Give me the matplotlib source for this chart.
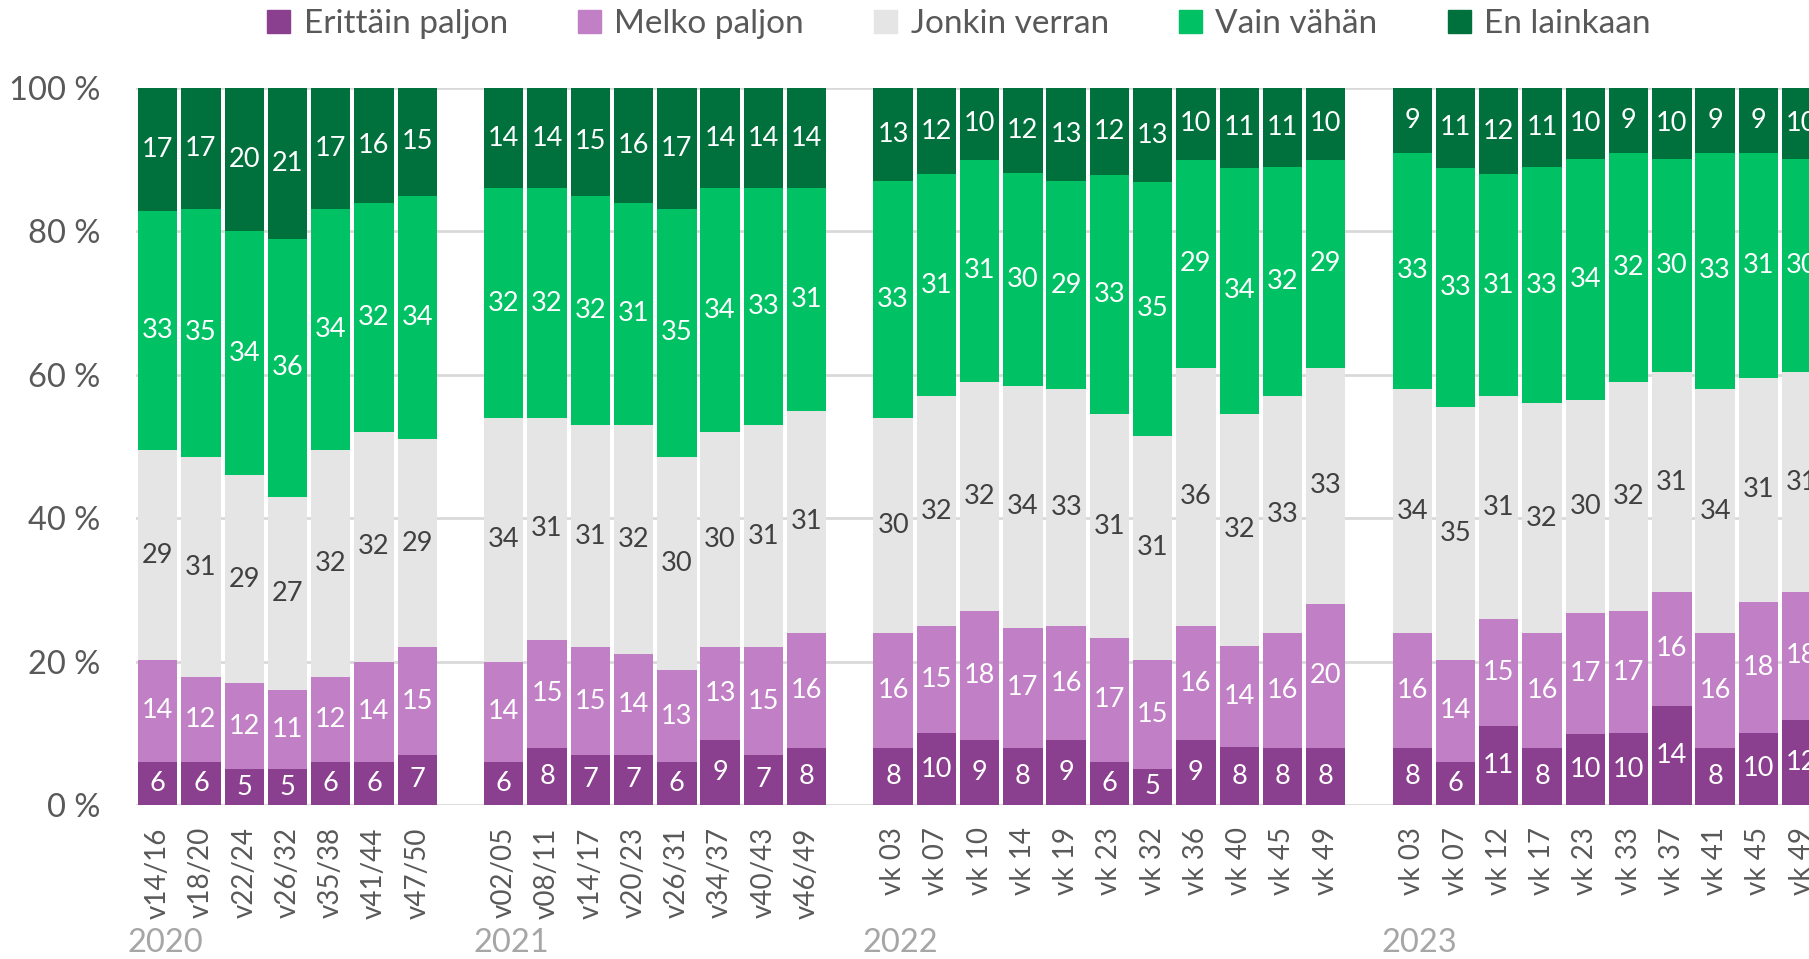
import numpy as np
import matplotlib.pyplot as plt
from matplotlib.patches import Patch

plt.rcParams['font.family'] = ['Lato', 'DejaVu Sans']

# data: bottom -> top, integer percentages as printed in the chart
series = ['Erittäin paljon', 'Melko paljon', 'Jonkin verran', 'Vain vähän', 'En lainkaan']
colors = ['#8B3F8F', '#C180C5', '#E5E5E5', '#00C264', '#00703C']
label_colors = ['white', 'white', '#404040', 'white', 'white']

years = ['2020', '2021', '2022', '2023']

labels_2020 = ['v14/16', 'v18/20', 'v22/24', 'v26/32', 'v35/38', 'v41/44', 'v47/50']
vals_2020 = [[6, 14, 29, 33, 17], [6, 12, 31, 35, 17], [5, 12, 29, 34, 20], [5, 11, 27, 36, 21],
             [6, 12, 32, 34, 17], [6, 14, 32, 32, 16], [7, 15, 29, 34, 15]]

labels_2021 = ['v02/05', 'v08/11', 'v14/17', 'v20/23', 'v26/31', 'v34/37', 'v40/43', 'v46/49']
vals_2021 = [[6, 14, 34, 32, 14], [8, 15, 31, 32, 14], [7, 15, 31, 32, 15], [7, 14, 32, 31, 16],
             [6, 13, 30, 35, 17], [9, 13, 30, 34, 14], [7, 15, 31, 33, 14], [8, 16, 31, 31, 14]]

labels_2022 = ['vk 03', 'vk 07', 'vk 10', 'vk 14', 'vk 19', 'vk 23', 'vk 32', 'vk 36', 'vk 40', 'vk 45', 'vk 49']
vals_2022 = [[8, 16, 30, 33, 13], [10, 15, 32, 31, 12], [9, 18, 32, 31, 10], [8, 17, 34, 30, 12],
             [9, 16, 33, 29, 13], [6, 17, 31, 33, 12], [5, 15, 31, 35, 13], [9, 16, 36, 29, 10],
             [8, 14, 32, 34, 11], [8, 16, 33, 32, 11], [8, 20, 33, 29, 10]]

labels_2023 = ['vk 03', 'vk 07', 'vk 12', 'vk 17', 'vk 23', 'vk 33', 'vk 37', 'vk 41', 'vk 45', 'vk 49']
vals_2023 = [[8, 16, 34, 33, 9], [6, 14, 35, 33, 11], [11, 15, 31, 31, 12], [8, 16, 32, 33, 11],
             [10, 17, 30, 34, 10], [10, 17, 32, 32, 9], [14, 16, 31, 30, 10], [8, 16, 34, 33, 9],
             [10, 18, 31, 31, 9], [12, 18, 31, 30, 10]]

groups = [(labels_2020, vals_2020), (labels_2021, vals_2021),
          (labels_2022, vals_2022), (labels_2023, vals_2023)]

# positions: one empty slot between years
xs, ticklabels, vals, starts = [], [], [], []
pos = 0
for labs, v in groups:
    starts.append(pos)
    for lab, row in zip(labs, v):
        xs.append(pos)
        ticklabels.append(lab)
        vals.append(row)
        pos += 1
    pos += 1
xs = np.array(xs)
vals = np.array(vals, dtype=float)
heights = vals / vals.sum(axis=1, keepdims=True) * 100

fig = plt.figure(figsize=(18.09, 9.59), dpi=100)
ax = fig.add_axes([0.0752, 0.1606, 0.9248, 0.7476])

bottom = np.zeros(len(xs))
for k in range(len(series)):
    ax.bar(xs, heights[:, k], bottom=bottom, width=0.91, color=colors[k], zorder=3)
    for x, b, h, v in zip(xs, bottom, heights[:, k], vals[:, k]):
        ax.text(x, b + h / 2, '%d' % v, ha='center', va='center', fontsize=19.5,
                color=label_colors[k], zorder=4, clip_on=True)
    bottom += heights[:, k]

ax.set_ylim(0, 100)
ax.set_xlim(-0.5, 38.17)
ax.set_yticks(range(0, 101, 20))
ax.set_yticklabels(['%d %%' % t for t in range(0, 101, 20)], fontsize=23.5, color='#595959')
ax.yaxis.grid(True, color='#D9D9D9', linewidth=2, zorder=0)
ax.set_axisbelow(True)
ax.set_xticks(xs)
ax.set_xticklabels(ticklabels, rotation=90, fontsize=20, color='#595959')
ax.tick_params(axis='both', length=0)
ax.tick_params(axis='x', pad=16)
ax.tick_params(axis='y', pad=26)
for s in ax.spines.values():
    s.set_visible(False)

trans = ax.get_xaxis_transform()
for yr, st in zip(years, starts):
    ax.text(st - 0.7, -0.193, yr, transform=trans, ha='left', va='center',
            fontsize=23.5, color='#A6A6A6', clip_on=False)

handles = [Patch(color=c) for c in colors]
leg = fig.legend(handles, series, loc='upper center', bbox_to_anchor=(0.53, 1.022), ncol=5,
                 frameon=False, fontsize=24, handlelength=0.7, handleheight=0.7,
                 handletextpad=0.4, columnspacing=2.1)
for t in leg.get_texts():
    t.set_color('#595959')

fig.savefig('out.png', dpi=100)
